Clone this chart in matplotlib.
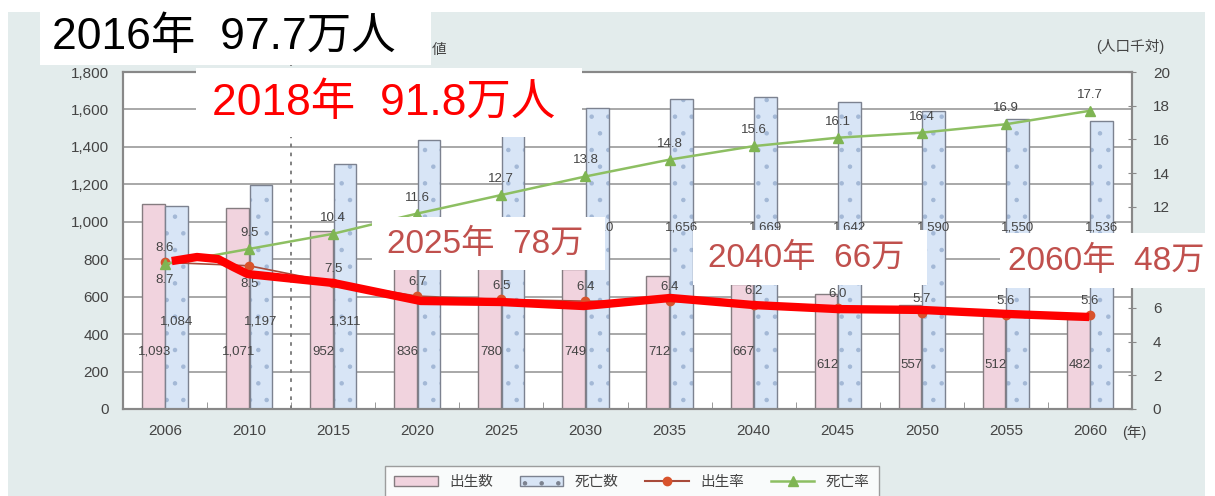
import numpy as np
import matplotlib.pyplot as plt
from matplotlib.patches import Rectangle, Patch
from matplotlib.lines import Line2D

plt.rcParams['font.family'] = ['Liberation Sans', 'Noto Sans CJK JP', 'DejaVu Sans']
plt.rcParams['hatch.linewidth'] = 0.8

# データ
years = ['2006', '2010', '2015', '2020', '2025', '2030',
         '2035', '2040', '2045', '2050', '2055', '2060']
births = [1093, 1071, 952, 836, 780, 749, 712, 667, 612, 557, 512, 482]
deaths = [1084, 1197, 1311, 1435, 1541, 1610, 1656, 1669, 1642, 1590, 1550, 1536]
birth_rate = [8.7, 8.5, 7.5, 6.7, 6.5, 6.4, 6.4, 6.2, 6.0, 5.7, 5.6, 5.6]
death_rate = [8.6, 9.5, 10.4, 11.6, 12.7, 13.8, 14.8, 15.6, 16.1, 16.4, 16.9, 17.7]

# 手書きの赤い線 (カテゴリ位置, 人口千対)
trend_x = [0.08, 0.38, 0.63, 0.81, 0.98, 2.0, 3.04, 3.99, 4.98, 6.01, 7.0, 8.0, 8.99, 10.02, 10.99]
trend_y = [8.78, 9.02, 8.90, 8.43, 8.01, 7.48, 6.41, 6.35, 6.11, 6.59, 6.17, 5.93, 5.88, 5.64, 5.46]

notes = ['2016年  97.7万人', '2018年  91.8万人', '2025年  78万', '2040年  66万', '2060年  48万']

W, H = 1215, 496


def fx(px):
    return px / W


def fy(py):
    return 1 - py / H


fig = plt.figure(figsize=(12.15, 4.96), dpi=100)
fig.patches.append(Rectangle((fx(8), 0), fx(1205) - fx(8), fy(12), transform=fig.transFigure,
                             facecolor='#e3ecec', edgecolor='none', zorder=-10))

ax = fig.add_axes([fx(123), fy(409), fx(1132) - fx(123), (409 - 72) / H])
ax2 = ax.twinx()

x = np.arange(len(years))
bw = 0.27
ax.bar(x - 0.14, births, bw, color='#f1d3de', edgecolor='#857c80', lw=1, zorder=2)
ax.bar(x + 0.14, deaths, bw, color='#d8e5f6', edgecolor='#a3b8d6', hatch='.', lw=0, zorder=2)
ax.bar(x + 0.14, deaths, bw, fill=False, edgecolor='#7c8290', lw=1, zorder=2)

ax.set_xlim(-0.5, 11.5)
ax.set_ylim(0, 1800)
ax2.set_ylim(0, 20)
ax.set_yticks(range(0, 1801, 200), [f'{v:,}' for v in range(0, 1801, 200)])
# 8 と 10 は注記ボックスの下に隠れる
ax2.set_yticks(range(0, 21, 2), ['' if v in (8, 10) else str(v) for v in range(0, 21, 2)])
ax.yaxis.grid(True, color='#9a9a9a', lw=1.2)
ax.set_axisbelow(True)

ax.set_xticks(x, years)
ax.set_xticks(x[:-1] + 0.5, minor=True)
ax.tick_params(axis='x', which='major', length=0, pad=11, labelsize=11, labelcolor='#444')
ax.tick_params(axis='x', which='minor', direction='in', length=5, color='#888')
ax.tick_params(axis='y', length=0, pad=10, labelsize=11, labelcolor='#444')
ax2.tick_params(axis='y', direction='inout', length=6, color='#888', pad=12,
                labelsize=11, labelcolor='#444')
for a in (ax, ax2):
    for s in a.spines.values():
        s.set_color('#888')
        s.set_linewidth(1.5)

# 実績値 / 推計値 の境界
ax.plot([1.5, 1.5], [0, 1880], color='#777', ls=(0, (2, 3)), lw=1.3, clip_on=False, zorder=1)

# 棒のラベル
for i in range(len(years)):
    yb = 352 if i < 8 else 365
    ax.text(x[i] - 0.12, (409 - yb) / 337 * 1800, f'{births[i]:,}', ha='center', va='center',
            fontsize=9.5, color='#444', zorder=3)
    if i in (3, 4):
        continue  # 注記ボックスの下
    yd = 322 if i < 3 else 228
    ax.text(x[i] + 0.14, (409 - yd) / 337 * 1800, f'{deaths[i]:,}', ha='center', va='center',
            fontsize=9.5, color='#444', zorder=3)

ax2.plot(x, birth_rate, color='#a84a3a', lw=1.2, marker='o', ms=6,
         mfc='#d8532c', mec='#d8532c', zorder=4)
ax2.plot(x, death_rate, color='#8dbf62', lw=1.8, marker='^', ms=7,
         mfc='#7fb553', mec='#7fb553', zorder=4)
for i in range(len(years)):
    off = -13 if i < 2 else 10
    ax2.annotate(f'{birth_rate[i]}', (x[i], birth_rate[i]), xytext=(0, off), textcoords='offset points',
                 ha='center', va='center', fontsize=9.5, color='#444', zorder=5)
    ax2.annotate(f'{death_rate[i]}', (x[i], death_rate[i]), xytext=(0, 11.5), textcoords='offset points',
                 ha='center', va='center', fontsize=9.5, color='#444', zorder=5)

ax2.plot(trend_x, trend_y, color='#ff0000', lw=6, solid_capstyle='butt',
         solid_joinstyle='round', zorder=6)

fig.text(fx(1130), fy(46), '(人口千対)', ha='center', va='center', fontsize=10.5, color='#444')
fig.text(fx(1122), fy(433), '(年)', ha='left', va='center', fontsize=10.5, color='#444')
fig.text(fx(432), fy(50), '値', ha='left', va='center', fontsize=10.5, color='#444')

# 凡例
handles = [Patch(facecolor='#f1d3de', edgecolor='#857c80'),
           Patch(facecolor='#d8e5f6', edgecolor='#7c8290', hatch='.'),
           Line2D([], [], color='#a84a3a', marker='o', mfc='#d8532c', mec='#d8532c', ms=6),
           Line2D([], [], color='#8dbf62', marker='^', mfc='#7fb553', mec='#7fb553', ms=7, lw=1.8)]
leg = fig.legend(handles, ['出生数', '死亡数', '出生率', '死亡率'], loc='upper center',
                 bbox_to_anchor=(fx(632), fy(459)), ncol=4, fancybox=False, edgecolor='#888',
                 fontsize=10.5, handlelength=3.0, columnspacing=1.8, borderpad=0.6)
for t in leg.get_texts():
    t.set_color('#444')

# 白い注記ボックス
boxes = [(40, 12, 431, 65), (196, 68, 582, 137), (372, 217, 605, 270),
         (693, 230, 927, 285), (1000, 233, 1215, 288)]
text_pos = [(52, 37), (212, 103), (387, 244), (708, 258), (1008, 261)]
colors = ['black', '#ff0000', '#c0504d', '#c0504d', '#c0504d']
sizes = [32, 32, 24, 24, 24]
for (x0, y0, x1, y1), (tx, ty), c, s, t in zip(boxes, text_pos, colors, sizes, notes):
    fig.patches.append(Rectangle((fx(x0), fy(y1)), fx(x1) - fx(x0), fy(y0) - fy(y1),
                                 transform=fig.transFigure, facecolor='white', edgecolor='none', zorder=10))
    fig.text(fx(tx), fy(ty), t, ha='left', va='center', fontsize=s, color=c, zorder=11)

fig.savefig('out.png', dpi=100, facecolor='white')
